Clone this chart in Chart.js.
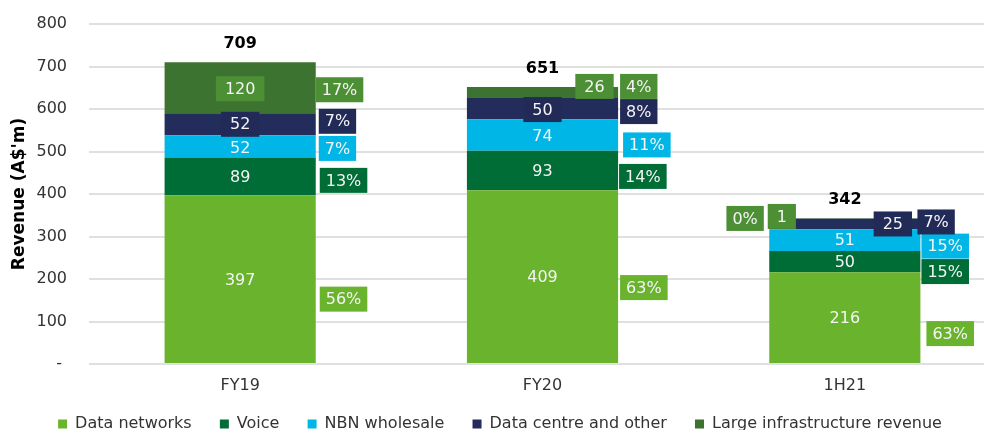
<!DOCTYPE html>
<html>
<head>
<meta charset="utf-8">
<script src="https://cdn.jsdelivr.net/npm/chart.js@4.4.0/dist/chart.umd.min.js"></script>
<style>
  html, body { margin: 0; padding: 0; background: #fff; overflow: hidden; }
  /* plot runs a little past the right edge, like the original */
  #wrap { position: relative; width: 996px; height: 430px; }
</style>
</head>
<body>
<div id="wrap"><canvas id="revenueChart"></canvas></div>
<script>
// data
const periods = ['FY19', 'FY20', '1H21'];
const dataNetworks = [397, 409, 216];
const voice = [89, 93, 50];
const nbnWholesale = [52, 74, 51];
const dataCentre = [52, 50, 25];
const largeInfra = [120, 26, 1];
const totals = [709, 651, 342];

const shareDataNetworks = ['56%', '63%', '63%'];
const shareVoice = ['13%', '14%', '15%'];
const shareNbn = ['7%', '11%', '15%'];
const shareDataCentre = ['7%', '8%', '7%'];
const shareLargeInfra = ['17%', '4%', '0%'];

const FONT = '"DejaVu Sans", Verdana, sans-serif';

// label nudges [dx, dy] per series / period (manual placement in the original)
const valueNudge = [
  [[0, 1], [0, 0], [0, 0]],
  [[0, 0], [0, 0], [0, 0]],
  [[0, 1], [0, 1], [0, 0]],
  [[0, 0], [0, 1], [48, 0]],
  [[0, 1], [52, -6], [-63, -2]]
];
const shareNudge = [
  [[4, 20], [2, 11], [6, 16]],
  [[4, 4], [1, 6], [1, 10]],
  [[3, 2], [5, 10], [1, 6]],
  [[3, -3], [2, 3], [-3, -2]],
  [[0, 2], [2, -6], [-194, 0]]
];

function drawBox(ctx, text, x, y, fill, pad, align) {
  const w = ctx.measureText(text).width + pad * 2;
  const h = 25;
  const left = align === 'center' ? x - w / 2 : x;
  if (fill) {
    ctx.fillStyle = fill;
    ctx.fillRect(left, y - h / 2, w, h);
  }
  ctx.fillStyle = '#f4f4f4';
  ctx.textAlign = 'center';
  ctx.fillText(text, left + w / 2, y + 1);
}

const segmentLabels = {
  id: 'segmentLabels',
  afterDatasetsDraw(chart) {
    const ctx = chart.ctx;
    ctx.save();
    ctx.textBaseline = 'middle';
    ctx.font = '16px ' + FONT;
    chart.data.datasets.forEach((ds, i) => {
      const meta = chart.getDatasetMeta(i);
      meta.data.forEach((bar, j) => {
        const mid = (bar.y + bar.base) / 2;
        const v = valueNudge[i][j];
        drawBox(ctx, String(ds.data[j]), bar.x + v[0], mid + v[1], ds.valueFill, 9, 'center');
        const s = shareNudge[i][j];
        drawBox(ctx, ds.shares[j], bar.x + bar.width / 2 + s[0], mid + s[1], ds.labelColor, 6, 'left');
      });
    });
    // totals on top
    const last = chart.getDatasetMeta(chart.data.datasets.length - 1);
    ctx.font = 'bold 16px ' + FONT;
    ctx.fillStyle = '#000';
    ctx.textAlign = 'center';
    last.data.forEach((bar, j) => {
      ctx.fillText(String(totals[j]), bar.x, bar.y - 18);
    });
    ctx.restore();
  }
};

const ctx = document.getElementById('revenueChart').getContext('2d');

new Chart(ctx, {
  type: 'bar',
  data: {
    labels: periods,
    datasets: [
      { label: 'Data networks', data: dataNetworks, shares: shareDataNetworks, backgroundColor: '#6ab42d', labelColor: '#6ab42d', valueFill: null },
      { label: 'Voice', data: voice, shares: shareVoice, backgroundColor: '#006c36', labelColor: '#006c36', valueFill: null },
      { label: 'NBN wholesale', data: nbnWholesale, shares: shareNbn, backgroundColor: '#00b6e7', labelColor: '#00b6e7', valueFill: null },
      { label: 'Data centre and other', data: dataCentre, shares: shareDataCentre, backgroundColor: '#232d5b', labelColor: '#222b58', valueFill: '#222b58' },
      { label: 'Large infrastructure revenue', data: largeInfra, shares: shareLargeInfra, backgroundColor: '#3c7330', labelColor: '#4c8f35', valueFill: '#4c8f35' }
    ].map(ds => Object.assign(ds, { categoryPercentage: 1, barPercentage: 0.5 }))
  },
  options: {
    responsive: true,
    maintainAspectRatio: false,
    animation: false,
    layout: { padding: { top: 24, left: 4, right: 0, bottom: 0 } },
    plugins: {
      legend: {
        position: 'bottom',
        maxHeight: 32,
        labels: {
          boxWidth: 9,
          boxHeight: 9,
          padding: 18,
          color: '#333',
          font: { size: 16, family: FONT },
          // two trailing spaces widen the gap between entries
          generateLabels: chart => Chart.defaults.plugins.legend.labels.generateLabels(chart)
            .map((item, i, arr) => Object.assign(item, { text: i < arr.length - 1 ? item.text + '  ' : item.text }))
        }
      },
      tooltip: { enabled: false }
    },
    scales: {
      x: {
        stacked: true,
        grid: { display: false, drawTicks: false },
        border: { display: false },
        afterFit: scale => { scale.height = 34; },
        ticks: { color: '#333', padding: 12, font: { size: 16, family: FONT } }
      },
      y: {
        stacked: true,
        min: 0,
        max: 800,
        border: { display: false },
        grid: { color: '#e0e0e0', lineWidth: 2, drawTicks: true, tickLength: 22, tickColor: 'rgba(0,0,0,0)' },
        afterFit: scale => { scale.width = 85; },
        ticks: {
          stepSize: 100,
          padding: 0,
          color: '#333',
          font: { size: 16, family: FONT },
          callback: v => (v === 0 ? '- ' : v)
        },
        title: {
          display: true,
          text: "Revenue (A$'m)",
          color: '#000',
          padding: { top: 5, bottom: 2 },
          font: { size: 17, weight: 'bold', family: FONT }
        }
      }
    }
  },
  plugins: [segmentLabels]
});
</script>
</body>
</html>
